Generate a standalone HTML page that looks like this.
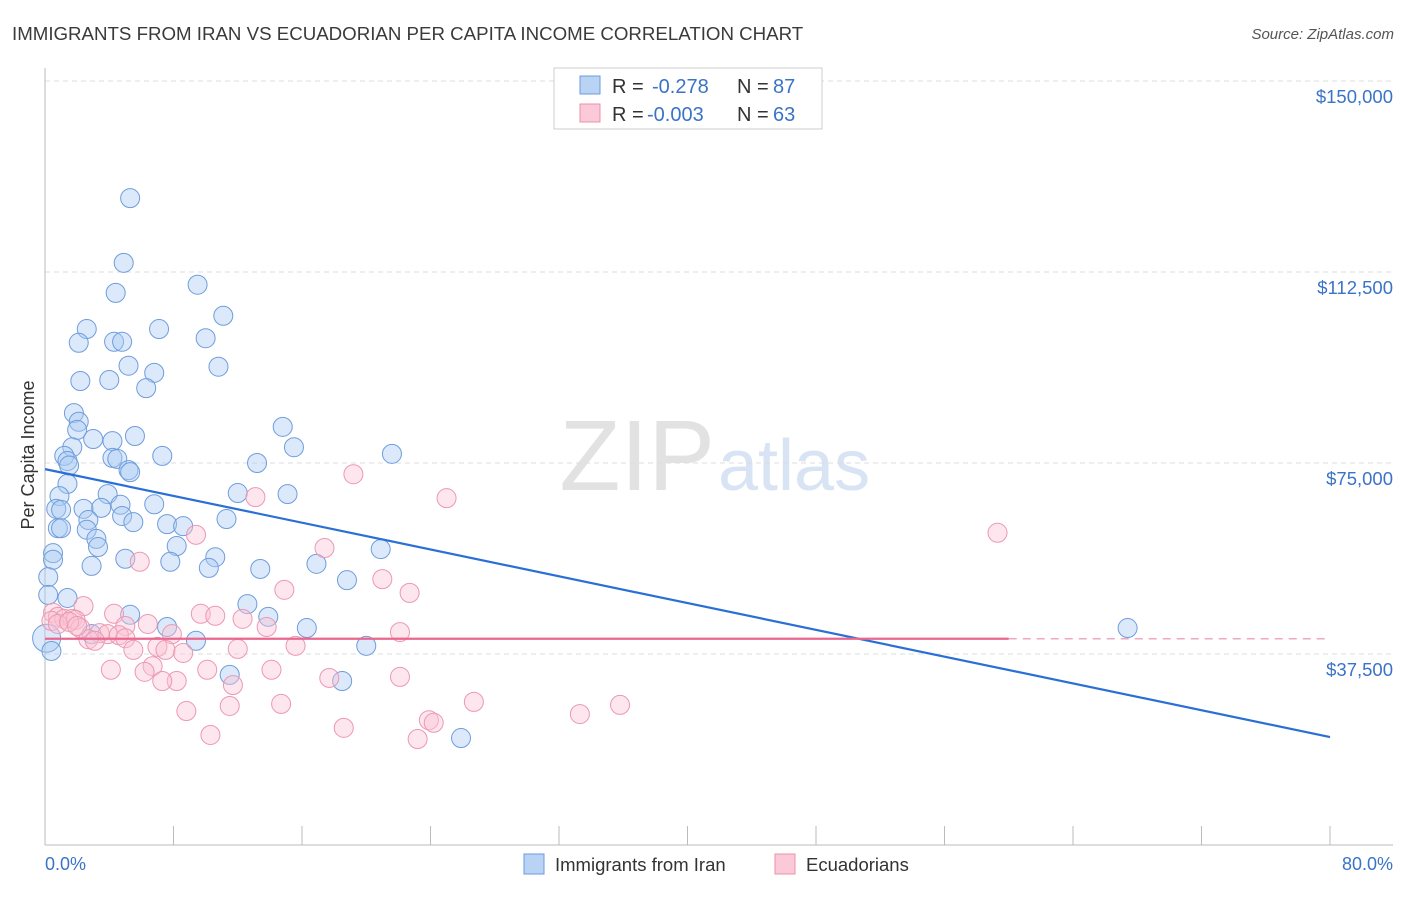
<!DOCTYPE html>
<html><head><meta charset="utf-8"><style>
body{margin:0;background:#fff;font-family:"Liberation Sans",sans-serif;}
svg text{font-family:"Liberation Sans",sans-serif;}
</style></head><body>
<svg id="chart" width="1406" height="892">
<text x="12" y="40" font-size="18.7" fill="#3a3a3a">IMMIGRANTS FROM IRAN VS ECUADORIAN PER CAPITA INCOME CORRELATION CHART</text>
<text x="1394" y="39" font-size="15" fill="#555" text-anchor="end" font-style="italic">Source: ZipAtlas.com</text>
<text x="715" y="490" font-size="100" fill="#e2e2e2" text-anchor="end" font-family="Liberation Serif">ZIP</text>
<text x="718" y="490" font-size="72" fill="#d8e4f4">atlas</text>
<g id="grid"></g><g id="axes"></g><g id="pts"></g><g id="trend"></g>
<text transform="translate(34,455) rotate(-90)" font-size="18" fill="#333" text-anchor="middle">Per Capita Income</text>
<text x="45" y="870" font-size="18" fill="#3b73c8">0.0%</text>
<text x="1393" y="870" font-size="18" fill="#3b73c8" text-anchor="end">80.0%</text>
<g>
<rect x="554" y="68" width="268" height="61" fill="#fff" stroke="#ccc"/>
<rect x="580" y="76" width="20" height="18" fill="#b9d3f5" stroke="#6b9bdc"/>
<rect x="580" y="104" width="20" height="18" fill="#fbc9d8" stroke="#ec8fae"/>
<text x="612" y="93" font-size="20" fill="#333">R =</text>
<text x="652" y="93" font-size="20" fill="#3b73c8">-0.278</text>
<text x="737" y="93" font-size="20" fill="#333">N =</text>
<text x="773" y="93" font-size="20" fill="#3b73c8">87</text>
<text x="612" y="121" font-size="20" fill="#333">R =</text>
<text x="647" y="121" font-size="20" fill="#3b73c8">-0.003</text>
<text x="737" y="121" font-size="20" fill="#333">N =</text>
<text x="773" y="121" font-size="20" fill="#3b73c8">63</text>
</g>
<g>
<rect x="524" y="854" width="20" height="20" fill="#b9d3f5" stroke="#6b9bdc"/>
<text x="555" y="871" font-size="18.5" fill="#333">Immigrants from Iran</text>
<rect x="775" y="854" width="20" height="20" fill="#fbc9d8" stroke="#ec8fae"/>
<text x="806" y="871" font-size="18.5" fill="#333">Ecuadorians</text>
</g>
</svg>
<script>
const yTicks=[37500,75000,112500,150000];
const yTickLabels=["$37,500","$75,000","$112,500","$150,000"];
const xTicks=[0,8,16,24,32,40,48,56,64,72,80];
const iranX=[5.3,4.9,4.4,9.5,11.1,2.6,7.1,2.1,4.3,4.8,10.0,5.2,10.8,6.8,2.2,4.0,6.3,1.8,2.1,2.0,3.0,1.7,5.6,4.2,14.8,15.5,1.2,1.4,7.3,4.2,4.5,21.6,13.2,5.2,5.3,1.4,0.9,3.9,12.0,15.1,6.8,4.7,0.7,1.0,2.4,3.5,4.8,2.7,5.5,11.3,7.6,8.6,0.8,1.0,2.6,3.2,3.3,8.2,20.9,0.5,0.5,5.0,10.6,7.8,2.9,10.2,16.9,13.4,0.2,18.8,0.2,1.4,12.6,5.3,13.9,7.6,16.3,2.9,0.1,67.4,9.4,20.0,11.5,18.5,25.9,0.4,1.5];
const iranY=[127.0,114.3,108.4,110.0,103.9,101.3,101.3,98.6,98.8,98.8,99.5,94.1,93.9,92.7,91.1,91.3,89.7,84.8,83.1,81.5,79.7,78.1,80.3,79.3,82.1,78.1,76.4,75.4,76.4,76.0,75.8,76.8,75.0,73.6,73.2,70.9,68.5,68.9,69.1,68.9,66.9,66.8,66.0,65.8,66.0,66.2,64.6,63.8,63.4,64.0,63.0,62.6,62.2,62.2,61.9,60.1,58.5,58.7,58.1,57.3,56.0,56.2,56.5,55.6,54.8,54.4,55.2,54.2,52.6,52.0,49.1,48.5,47.3,45.2,44.8,42.8,42.6,41.4,40.6,42.6,40.1,39.1,33.4,32.2,21.0,38.1,74.5];
const ecuX=[19.2,25.0,13.1,59.3,9.4,17.4,5.9,21.0,14.9,22.7,2.4,0.5,0.8,1.2,1.7,1.9,4.3,9.7,10.6,12.3,6.4,5.0,7.9,13.8,22.1,2.2,3.4,3.9,4.6,2.7,3.1,5.0,5.5,7.0,7.5,8.6,12.0,15.6,6.7,4.1,10.1,14.1,6.2,8.2,7.3,11.7,17.7,22.1,8.8,11.5,14.7,26.7,33.3,35.8,23.9,24.2,18.6,10.3,23.2,0.4,0.8,1.5,2.0];
const ecuY=[72.8,68.1,68.3,61.3,60.9,58.3,55.6,52.2,50.1,49.5,46.9,45.6,44.8,44.4,44.4,44.2,45.4,45.4,45.0,44.4,43.4,43.0,41.4,42.8,41.8,42.6,41.6,41.4,41.2,40.4,40.1,40.6,38.3,38.9,38.3,37.7,38.5,39.1,35.1,34.4,34.4,34.4,34.0,32.2,32.2,31.4,32.8,33.0,26.3,27.3,27.7,28.1,25.7,27.5,24.5,24.0,23.0,21.6,20.8,44.0,43.4,43.8,43.0];
const iranTrend=[[0,73.8],[80,21.2]];
const ecuTrend=[[0,40.5],[60,40.5],[80,40.5]];
const X=p=>45+p*(1285/80);
const Y=k=>845-k*1000*191/37500;
const NS="http://www.w3.org/2000/svg";
function mk(tag,attrs,parent){const e=document.createElementNS(NS,tag);for(const k in attrs)e.setAttribute(k,attrs[k]);parent.appendChild(e);return e;}
const grid=document.getElementById('grid'),axes=document.getElementById('axes'),pts=document.getElementById('pts'),tr=document.getElementById('trend');
yTicks.forEach((v,i)=>{
 const l=mk('line',{x1:45,x2:1393,y1:Y(v/1000),y2:Y(v/1000),stroke:'#ddd','stroke-dasharray':'5,4'},grid);
 
 
 const t=mk('text',{x:1393,y:Y(v/1000)+22,'font-size':18.5,fill:'#3b73c8','text-anchor':'end'},grid);
 t.textContent=yTickLabels[i];
 
 
});
const ya=mk('line',{x1:45,x2:45,y1:68,y2:845,stroke:'#bbb'},axes);


const xa=mk('line',{x1:45,x2:1393,y1:845,y2:845,stroke:'#bbb'},axes);


xTicks.forEach(p=>{const t=mk('line',{x1:X(p),x2:X(p),y1:826,y2:845,stroke:'#bbb'},axes);
 
 });
iranX.forEach((p,i)=>{const c=mk('circle',{cx:X(p),cy:Y(iranY[i]),r:i===78?14:9.5,fill:'rgba(170,202,242,0.42)',stroke:'#6f9ddc','stroke-width':1},pts);
 
 });
ecuX.forEach((p,i)=>{const c=mk('circle',{cx:X(p),cy:Y(ecuY[i]),r:9.5,fill:'rgba(250,195,212,0.42)',stroke:'#ec98b4','stroke-width':1},pts);
 
 });
const bl=mk('line',{x1:X(iranTrend[0][0]),y1:Y(iranTrend[0][1]),x2:X(iranTrend[1][0]),y2:Y(iranTrend[1][1]),stroke:'#2a6fd6','stroke-width':2.2},tr);


const pl=mk('line',{x1:X(ecuTrend[0][0]),y1:Y(ecuTrend[0][1]),x2:X(ecuTrend[1][0]),y2:Y(ecuTrend[1][1]),stroke:'#e9678f','stroke-width':2.2},tr);


const pd=mk('line',{x1:X(ecuTrend[1][0]),y1:Y(ecuTrend[1][1]),x2:X(ecuTrend[2][0]),y2:Y(ecuTrend[2][1]),stroke:'#f0a8bf','stroke-width':1.5,'stroke-dasharray':'8,6'},tr);


</script>
</body></html>
